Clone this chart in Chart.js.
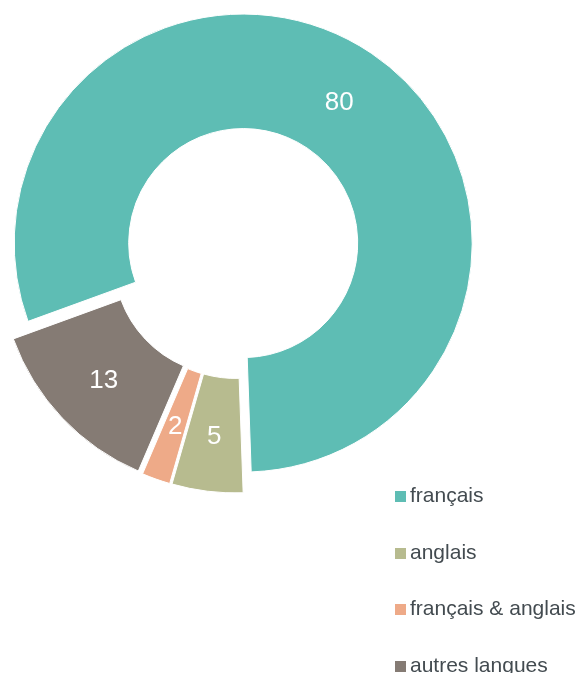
<!DOCTYPE html>
<html>
<head>
<meta charset="utf-8">
<script src="https://cdn.jsdelivr.net/npm/chart.js@4"></script>
<style>
  html, body { margin: 0; padding: 0; background: #fff; }
  #wrap { position: relative; width: 581px; height: 673px; }
  #legend { position: absolute; left: 395px; top: 483px; }
  .item { position: absolute; left: 0; height: 22px; line-height: 22px; white-space: nowrap;
          font: 21px "Liberation Sans", Arial, sans-serif; color: #434b50; }
  .box { display: inline-block; width: 11px; height: 11px; margin-right: 4px; vertical-align: 0px; }
</style>
</head>
<body>
<div id="wrap">
  <canvas id="chart" width="581" height="673"></canvas>
  <div id="legend"></div>
</div>
<script>
// ── Data ──
const LABELS  = ["français", "anglais", "français & anglais", "autres langues"];
const VALUES  = [80, 5, 2, 13];
const COLORS  = ["#5ebdb4", "#b7bb8f", "#eeaa88", "#857b74"];
const EXPLODE = [12, 11, 11, 11];   // px each slice is pulled out along its mid-angle

// ── Pull every slice out (pure shift of the arc centre, like an exploded pie) ──
const explode = {
  id: "explode",
  afterDatasetsUpdate(chart) {
    chart.getDatasetMeta(0).data.forEach((arc, i) => {
      const mid = (arc.startAngle + arc.endAngle) / 2;
      arc.x += Math.cos(mid) * EXPLODE[i];
      arc.y += Math.sin(mid) * EXPLODE[i];
    });
  }
};

// ── White value labels in the middle of each slice ──
const valueLabels = {
  id: "valueLabels",
  afterDatasetsDraw(chart) {
    const ctx = chart.ctx;
    const ds = chart.data.datasets[0];
    ctx.save();
    ctx.fillStyle = "#ffffff";
    ctx.font = '26px "Liberation Sans", Arial, sans-serif';
    ctx.textAlign = "center";
    ctx.textBaseline = "middle";
    chart.getDatasetMeta(0).data.forEach((arc, i) => {
      const mid = (arc.startAngle + arc.endAngle) / 2;
      const r = (arc.innerRadius + arc.outerRadius) / 2;
      ctx.fillText(ds.data[i], arc.x + Math.cos(mid) * r, arc.y + Math.sin(mid) * r + 2);
    });
    ctx.restore();
  }
};

new Chart(document.getElementById("chart"), {
  type: "doughnut",
  data: {
    labels: LABELS,
    datasets: [{
      data: VALUES,
      backgroundColor: COLORS,
      borderColor: "#ffffff",
      borderWidth: 1,
    }]
  },
  options: {
    responsive: false,
    animation: false,
    radius: 229,
    cutout: "50%",
    rotation: 250,
    layout: { padding: { left: 0, top: 0, right: 108, bottom: 167 } },
    plugins: { legend: { display: false }, tooltip: { enabled: false } },
  },
  plugins: [explode, valueLabels],
});

// ── Legend (bottom right, one entry per row) ──
const legend = document.getElementById("legend");
LABELS.forEach((lab, i) => {
  const row = document.createElement("div");
  row.className = "item";
  row.style.top = (i * 56.5) + "px";
  row.innerHTML = `<span class="box" style="background:${COLORS[i]}"></span>${lab}`;
  legend.appendChild(row);
});
</script>
</body>
</html>
